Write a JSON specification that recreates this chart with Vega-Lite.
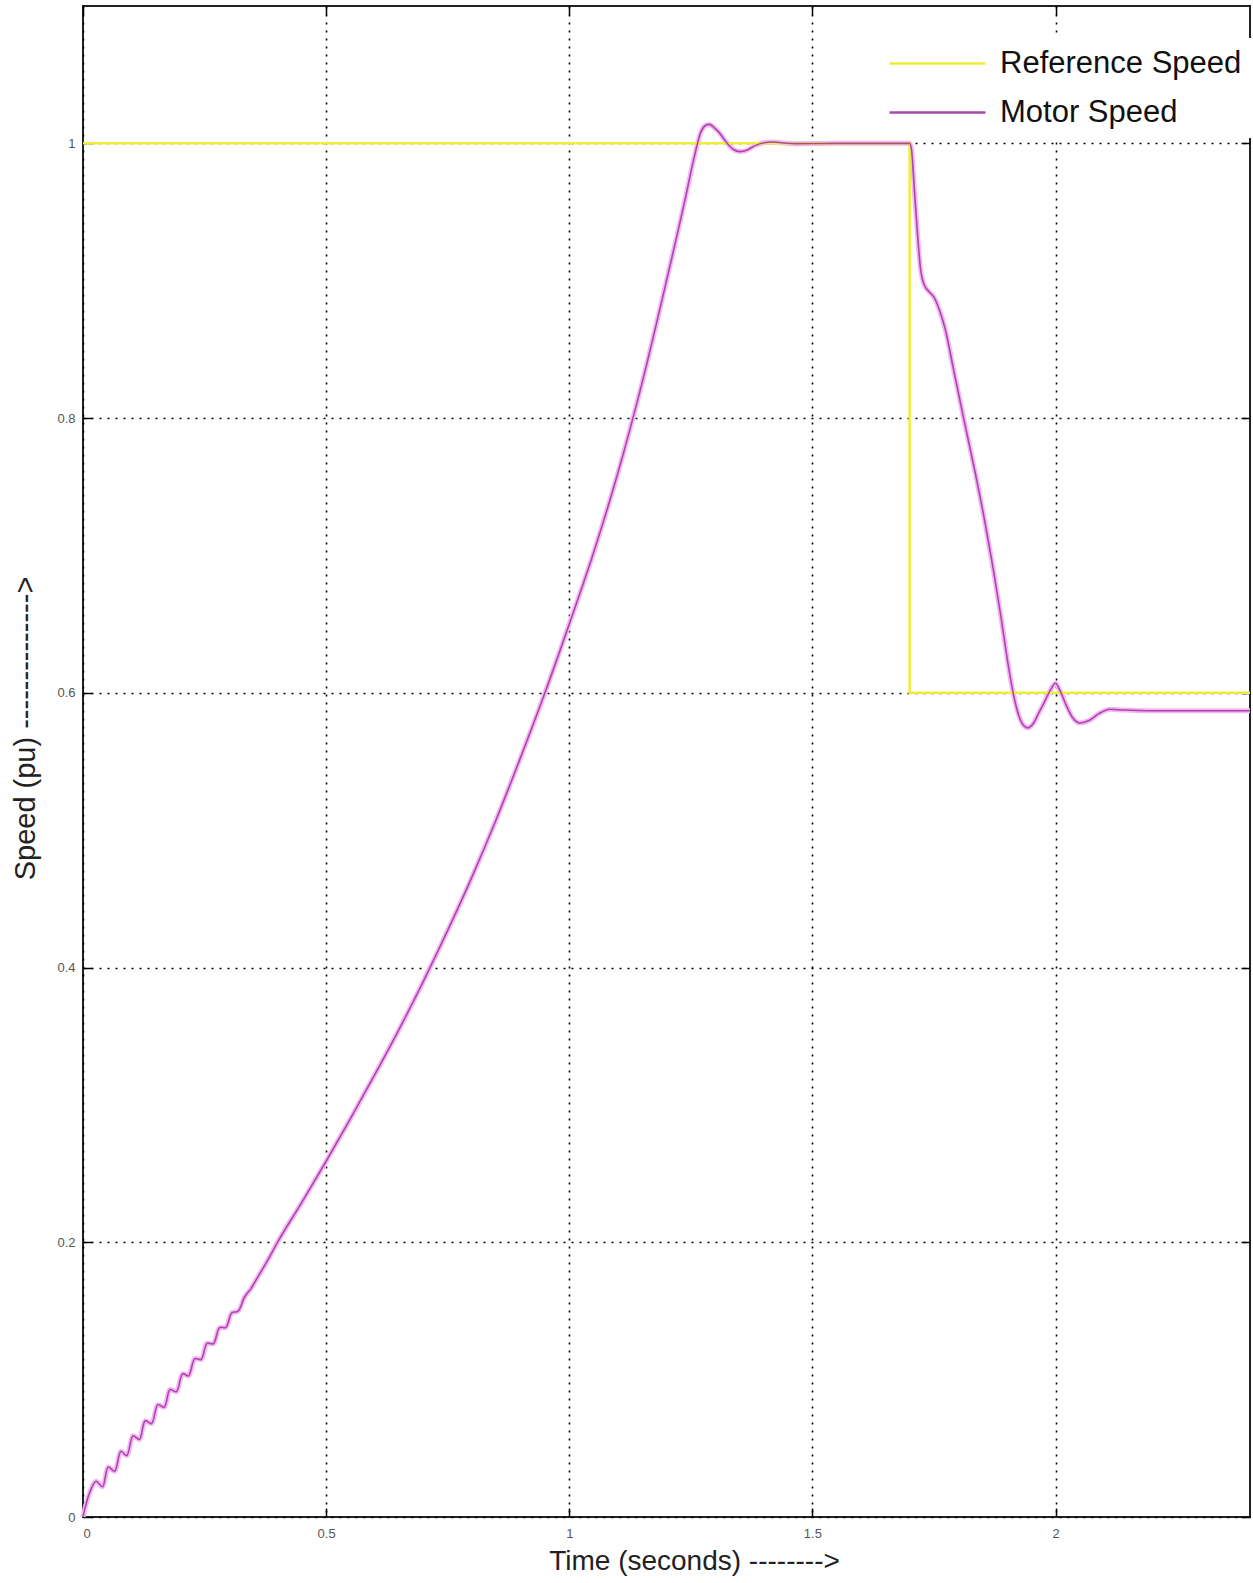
{
  "$schema": "https://vega.github.io/schema/vega-lite/v6.json",
  "autosize": "none",
  "width": 1167,
  "height": 1511,
  "padding": {"left": 83, "top": 6, "right": 3, "bottom": 66},
  "background": "white",
  "config": {
    "view": {"stroke": "#222", "strokeWidth": 2},
    "font": "Liberation Sans"
  },
  "datasets": {
    "ref": [
      {"t": 0, "v": 1, "k": 1, "series": "Reference Speed"},
      {"t": 1.7, "v": 1, "k": 2, "series": "Reference Speed"},
      {"t": 1.7, "v": 0.6, "k": 3, "series": "Reference Speed"},
      {"t": 2.4, "v": 0.6, "k": 4, "series": "Reference Speed"}
    ],
    "motor": [
      {"t": 0, "v": 0, "series": "Motor Speed"},
      {"t": 0.006, "v": 0.009, "series": "Motor Speed"},
      {"t": 0.014, "v": 0.018, "series": "Motor Speed"},
      {"t": 0.027, "v": 0.026, "series": "Motor Speed"},
      {"t": 0.04, "v": 0.022, "series": "Motor Speed"},
      {"t": 0.052, "v": 0.0364, "series": "Motor Speed"},
      {"t": 0.065, "v": 0.0333, "series": "Motor Speed"},
      {"t": 0.078, "v": 0.0479, "series": "Motor Speed"},
      {"t": 0.09, "v": 0.0447, "series": "Motor Speed"},
      {"t": 0.103, "v": 0.0591, "series": "Motor Speed"},
      {"t": 0.116, "v": 0.0565, "series": "Motor Speed"},
      {"t": 0.128, "v": 0.0701, "series": "Motor Speed"},
      {"t": 0.141, "v": 0.068, "series": "Motor Speed"},
      {"t": 0.154, "v": 0.0818, "series": "Motor Speed"},
      {"t": 0.167, "v": 0.0799, "series": "Motor Speed"},
      {"t": 0.179, "v": 0.0928, "series": "Motor Speed"},
      {"t": 0.192, "v": 0.0913, "series": "Motor Speed"},
      {"t": 0.205, "v": 0.1043, "series": "Motor Speed"},
      {"t": 0.217, "v": 0.1028, "series": "Motor Speed"},
      {"t": 0.23, "v": 0.1153, "series": "Motor Speed"},
      {"t": 0.243, "v": 0.1147, "series": "Motor Speed"},
      {"t": 0.255, "v": 0.1264, "series": "Motor Speed"},
      {"t": 0.268, "v": 0.1261, "series": "Motor Speed"},
      {"t": 0.281, "v": 0.1378, "series": "Motor Speed"},
      {"t": 0.294, "v": 0.1381, "series": "Motor Speed"},
      {"t": 0.306, "v": 0.1487, "series": "Motor Speed"},
      {"t": 0.319, "v": 0.1498, "series": "Motor Speed"},
      {"t": 0.332, "v": 0.16, "series": "Motor Speed"},
      {"t": 0.345, "v": 0.166, "series": "Motor Speed"},
      {"t": 0.36, "v": 0.175, "series": "Motor Speed"},
      {"t": 0.38, "v": 0.187, "series": "Motor Speed"},
      {"t": 0.4, "v": 0.2, "series": "Motor Speed"},
      {"t": 0.45, "v": 0.229, "series": "Motor Speed"},
      {"t": 0.5, "v": 0.259, "series": "Motor Speed"},
      {"t": 0.55, "v": 0.29, "series": "Motor Speed"},
      {"t": 0.6, "v": 0.322, "series": "Motor Speed"},
      {"t": 0.65, "v": 0.355, "series": "Motor Speed"},
      {"t": 0.7, "v": 0.39, "series": "Motor Speed"},
      {"t": 0.75, "v": 0.427, "series": "Motor Speed"},
      {"t": 0.8, "v": 0.466, "series": "Motor Speed"},
      {"t": 0.85, "v": 0.508, "series": "Motor Speed"},
      {"t": 0.9, "v": 0.553, "series": "Motor Speed"},
      {"t": 0.95, "v": 0.6, "series": "Motor Speed"},
      {"t": 1.0, "v": 0.65, "series": "Motor Speed"},
      {"t": 1.05, "v": 0.702, "series": "Motor Speed"},
      {"t": 1.1, "v": 0.76, "series": "Motor Speed"},
      {"t": 1.15, "v": 0.826, "series": "Motor Speed"},
      {"t": 1.2, "v": 0.9, "series": "Motor Speed"},
      {"t": 1.24, "v": 0.962, "series": "Motor Speed"},
      {"t": 1.257, "v": 0.99, "series": "Motor Speed"},
      {"t": 1.271, "v": 1.0085, "series": "Motor Speed"},
      {"t": 1.28, "v": 1.013, "series": "Motor Speed"},
      {"t": 1.288, "v": 1.0138, "series": "Motor Speed"},
      {"t": 1.298, "v": 1.0115, "series": "Motor Speed"},
      {"t": 1.308, "v": 1.008, "series": "Motor Speed"},
      {"t": 1.325, "v": 1.0, "series": "Motor Speed"},
      {"t": 1.338, "v": 0.9955, "series": "Motor Speed"},
      {"t": 1.351, "v": 0.994, "series": "Motor Speed"},
      {"t": 1.365, "v": 0.995, "series": "Motor Speed"},
      {"t": 1.38, "v": 0.998, "series": "Motor Speed"},
      {"t": 1.4, "v": 1.0005, "series": "Motor Speed"},
      {"t": 1.419, "v": 1.001, "series": "Motor Speed"},
      {"t": 1.44, "v": 1.0003, "series": "Motor Speed"},
      {"t": 1.47, "v": 0.9998, "series": "Motor Speed"},
      {"t": 1.55, "v": 1.0, "series": "Motor Speed"},
      {"t": 1.65, "v": 1.0, "series": "Motor Speed"},
      {"t": 1.7, "v": 1.0, "series": "Motor Speed"},
      {"t": 1.704, "v": 0.995, "series": "Motor Speed"},
      {"t": 1.71, "v": 0.965, "series": "Motor Speed"},
      {"t": 1.716, "v": 0.935, "series": "Motor Speed"},
      {"t": 1.722, "v": 0.91, "series": "Motor Speed"},
      {"t": 1.73, "v": 0.897, "series": "Motor Speed"},
      {"t": 1.74, "v": 0.892, "series": "Motor Speed"},
      {"t": 1.75, "v": 0.888, "series": "Motor Speed"},
      {"t": 1.76, "v": 0.88, "series": "Motor Speed"},
      {"t": 1.773, "v": 0.865, "series": "Motor Speed"},
      {"t": 1.79, "v": 0.836, "series": "Motor Speed"},
      {"t": 1.811, "v": 0.8, "series": "Motor Speed"},
      {"t": 1.835, "v": 0.76, "series": "Motor Speed"},
      {"t": 1.855, "v": 0.724, "series": "Motor Speed"},
      {"t": 1.872, "v": 0.69, "series": "Motor Speed"},
      {"t": 1.888, "v": 0.655, "series": "Motor Speed"},
      {"t": 1.902, "v": 0.622, "series": "Motor Speed"},
      {"t": 1.914, "v": 0.598, "series": "Motor Speed"},
      {"t": 1.925, "v": 0.583, "series": "Motor Speed"},
      {"t": 1.935, "v": 0.576, "series": "Motor Speed"},
      {"t": 1.943, "v": 0.5745, "series": "Motor Speed"},
      {"t": 1.955, "v": 0.578, "series": "Motor Speed"},
      {"t": 1.965, "v": 0.585, "series": "Motor Speed"},
      {"t": 1.974, "v": 0.591, "series": "Motor Speed"},
      {"t": 1.988, "v": 0.601, "series": "Motor Speed"},
      {"t": 2.0, "v": 0.607, "series": "Motor Speed"},
      {"t": 2.01, "v": 0.601, "series": "Motor Speed"},
      {"t": 2.022, "v": 0.591, "series": "Motor Speed"},
      {"t": 2.035, "v": 0.582, "series": "Motor Speed"},
      {"t": 2.05, "v": 0.578, "series": "Motor Speed"},
      {"t": 2.07, "v": 0.58, "series": "Motor Speed"},
      {"t": 2.09, "v": 0.585, "series": "Motor Speed"},
      {"t": 2.112, "v": 0.588, "series": "Motor Speed"},
      {"t": 2.14, "v": 0.5875, "series": "Motor Speed"},
      {"t": 2.189, "v": 0.587, "series": "Motor Speed"},
      {"t": 2.3, "v": 0.587, "series": "Motor Speed"},
      {"t": 2.4, "v": 0.587, "series": "Motor Speed"}
    ]
  },
  "resolve": {"axis": {"x": "independent", "y": "independent"}},
  "layer": [
    {
      "data": {"name": "motor"},
      "mark": {"type": "line", "stroke": "#f6b6f6", "strokeWidth": 5, "interpolate": "monotone"},
      "encoding": {
        "x": {"field": "t", "type": "quantitative", "scale": {"domain": [0, 2.4], "nice": false, "zero": false}, "axis": null},
        "y": {"field": "v", "type": "quantitative", "scale": {"domain": [0, 1.1], "nice": false, "zero": false}, "axis": null}
      }
    },
    {
      "data": {"name": "ref"},
      "mark": {"type": "line", "strokeWidth": 2.5},
      "encoding": {
        "x": {"field": "t", "type": "quantitative", "scale": {"domain": [0, 2.4], "nice": false, "zero": false},
          "axis": {"orient": "top", "values": [0, 0.5, 1, 1.5, 2], "labels": false, "title": null, "grid": false, "domain": false, "tickSize": -9, "tickColor": "#000", "tickWidth": 1.5}},
        "y": {"field": "v", "type": "quantitative", "scale": {"domain": [0, 1.1], "nice": false, "zero": false},
          "axis": {"orient": "right", "values": [0, 0.2, 0.4, 0.6, 0.8, 1], "labels": false, "title": null, "grid": false, "domain": false, "tickSize": -9, "tickColor": "#000", "tickWidth": 1.5}},
        "order": {"field": "k", "type": "quantitative"},
        "color": {"field": "series", "type": "nominal",
          "scale": {"domain": ["Reference Speed", "Motor Speed"], "range": ["#eeee3a", "#a848a8"]},
          "legend": {"orient": "none", "legendX": 829, "legendY": 32, "title": null,
            "symbolType": "M-4,0H4", "symbolSize": 576, "symbolStrokeWidth": 2.5,
            "labelFont": "Liberation Sans", "labelFontSize": 31, "labelColor": "#111", "labelOffset": 47, "labelLimit": 400,
            "rowPadding": 17, "padding": 10, "fillColor": "white", "strokeColor": null}}
      }
    },
    {
      "data": {"name": "motor"},
      "transform": [{"filter": "datum.t <= 0.345"}],
      "mark": {"type": "line", "strokeWidth": 1.6, "interpolate": "catmull-rom"},
      "encoding": {
        "x": {"field": "t", "type": "quantitative", "scale": {"domain": [0, 2.4], "nice": false, "zero": false}, "axis": null},
        "y": {"field": "v", "type": "quantitative", "scale": {"domain": [0, 1.1], "nice": false, "zero": false}, "axis": null},
        "color": {"field": "series", "type": "nominal"}
      }
    },
    {
      "data": {"name": "motor"},
      "transform": [{"filter": "datum.t >= 0.345"}],
      "mark": {"type": "line", "strokeWidth": 1.6, "interpolate": "monotone"},
      "encoding": {
        "x": {"field": "t", "type": "quantitative", "scale": {"domain": [0, 2.4], "nice": false, "zero": false},
          "axis": {"orient": "bottom", "values": [0, 0.5, 1, 1.5, 2], "format": "~g", "title": "Time (seconds) -------->",
            "grid": true, "gridDash": [2, 6], "gridColor": "#000", "gridWidth": 1.6, "domain": false,
            "tickSize": -9, "tickColor": "#000", "tickWidth": 1.5,
            "labelFontSize": 13, "labelColor": "#555", "labelPadding": 19,
            "titleFont": "Liberation Sans", "titleFontSize": 28, "titleFontWeight": "normal", "titleColor": "#222",
            "titleX": 611, "titleY": 44, "titleBaseline": "middle", "titleAlign": "center"}},
        "y": {"field": "v", "type": "quantitative", "scale": {"domain": [0, 1.1], "nice": false, "zero": false},
          "axis": {"orient": "left", "values": [0, 0.2, 0.4, 0.6, 0.8, 1], "format": "~g", "title": "Speed (pu) -------------->",
            "grid": true, "gridDash": [2, 6], "gridColor": "#000", "gridWidth": 1.6, "domain": false,
            "tickSize": -9, "tickColor": "#000", "tickWidth": 1.5,
            "labelFontSize": 13, "labelColor": "#555", "labelPadding": 17,
            "titleFont": "Liberation Sans", "titleFontSize": 29, "titleFontWeight": "normal", "titleColor": "#222",
            "titleX": -58, "titleY": 722, "titleAngle": -90, "titleBaseline": "middle", "titleAlign": "center"}},
        "color": {"field": "series", "type": "nominal"}
      }
    }
  ]
}
